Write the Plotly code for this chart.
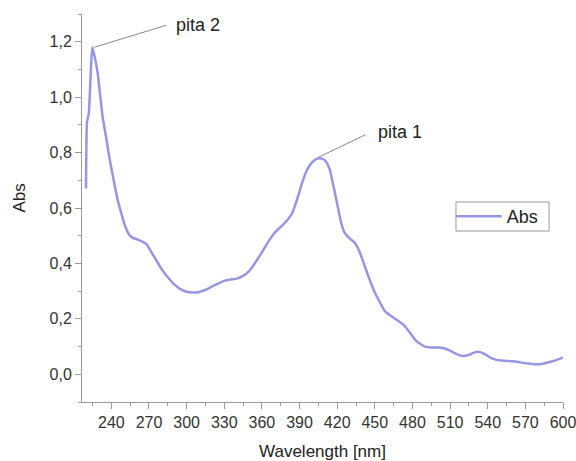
import plotly.graph_objects as go

wavelength = [219.8, 220.6, 222.0, 223.5, 224.8, 226.5, 229.0, 231.0, 233.0, 236.0,
              238.5, 241.0, 245.0, 248.0, 251.0, 254.0, 257.0, 261.0, 265.0, 268.0,
              272.0, 276.0, 280.0, 285.0, 290.0, 295.0, 300.0, 305.0, 310.0, 315.0,
              320.0, 325.0, 330.0, 335.0, 340.0, 345.0, 350.0, 355.0, 360.0, 365.0,
              370.0, 375.0, 380.0, 384.0, 388.0, 392.0, 396.0, 400.0, 404.0, 408.0,
              411.0, 414.0, 417.0, 420.0, 423.0, 426.0, 430.0, 434.0, 438.0, 442.0,
              446.0, 450.0, 454.0, 458.0, 463.0, 468.0, 473.0, 478.0, 482.0, 486.0,
              490.0, 495.0, 500.0, 505.0, 510.0, 515.0, 520.0, 525.0, 530.0, 534.0,
              538.0, 542.0, 547.0, 553.0, 560.0, 566.0, 572.0, 578.0, 584.0, 590.0,
              595.0, 600.0]
absorbance = [0.67, 0.91, 0.94, 1.08, 1.18, 1.15, 1.09, 1.01, 0.93, 0.85,
              0.78, 0.72, 0.63, 0.58, 0.535, 0.505, 0.492, 0.486, 0.478, 0.470,
              0.44, 0.41, 0.38, 0.35, 0.325, 0.307, 0.298, 0.295, 0.297, 0.305,
              0.316, 0.327, 0.337, 0.342, 0.345, 0.355, 0.373, 0.405, 0.44, 0.478,
              0.51, 0.532, 0.555, 0.58, 0.63, 0.69, 0.738, 0.765, 0.778, 0.778,
              0.768, 0.74, 0.68, 0.615, 0.55, 0.51, 0.49, 0.475, 0.44, 0.39,
              0.34, 0.295, 0.26, 0.228, 0.21, 0.195, 0.178, 0.15, 0.125, 0.11,
              0.10, 0.097, 0.097, 0.094, 0.085, 0.074, 0.066, 0.07, 0.08, 0.08,
              0.072, 0.06, 0.052, 0.049, 0.047, 0.043, 0.039, 0.036, 0.038, 0.045,
              0.052, 0.061]

peak_labels = ["pita 2", "pita 1"]
x_ticks = [240, 270, 300, 330, 360, 390, 420, 450, 480, 510, 540, 570, 600]
y_ticks = [0.0, 0.2, 0.4, 0.6, 0.8, 1.0, 1.2]

LINE = "rgb(150,150,225)"
FONT = "Liberation Sans, Arial, sans-serif"

# locate peaks from data
i2 = max(range(len(wavelength)), key=lambda i: absorbance[i] if wavelength[i] < 300 else -1)
i1 = max(range(len(wavelength)), key=lambda i: absorbance[i] if wavelength[i] > 350 else -1)
peaks = [(wavelength[i2], absorbance[i2]), (wavelength[i1] - 2, absorbance[i1])]
# pixel offsets: line start, line end and text offset
offsets = [((2, 0), (74, 22), (82, 22)), ((3, 1), (51, 24), (61, 27))]

fig = go.Figure()
fig.add_trace(go.Scatter(
    x=wavelength, y=absorbance, mode="lines", name="Abs",
    line=dict(color=LINE, width=2.5, shape="spline", smoothing=0.5),
))

for (px, py), lab, (s, e, t) in zip(peaks, peak_labels, offsets):
    fig.add_shape(type="line", xref="x", yref="y",
                  xsizemode="pixel", ysizemode="pixel",
                  xanchor=px, yanchor=py,
                  x0=s[0], y0=s[1], x1=e[0], y1=e[1],
                  line=dict(color="#888888", width=1))
    fig.add_annotation(x=px, y=py, text=lab, showarrow=False,
                       xanchor="left", yanchor="middle",
                       xshift=t[0], yshift=t[1],
                       font=dict(family=FONT, size=18, color="#222222"))

# legend frame
fig.add_shape(type="rect", xref="paper", yref="paper",
              x0=0.7775, x1=0.971, y0=0.4407, y1=0.5155,
              line=dict(color="#999999", width=1), fillcolor="rgba(0,0,0,0)")

# y axis title
fig.add_annotation(xref="paper", yref="paper", x=-0.129, y=0.527,
                   text="Abs", textangle=-90, showarrow=False,
                   xanchor="center", yanchor="middle",
                   font=dict(family=FONT, size=17, color="#222222"))

fig.update_layout(
    width=576, height=461,
    margin=dict(l=82, r=13, t=14, b=59, autoexpand=False),
    plot_bgcolor="white", paper_bgcolor="white",
    separators=", ",
    font=dict(family=FONT, size=16, color="#333333"),
    showlegend=True,
    legend=dict(x=0.7666, y=0.478, xanchor="left", yanchor="middle",
                borderwidth=0, bgcolor="rgba(0,0,0,0)",
                font=dict(family=FONT, size=18, color="#222222"),
                itemwidth=46, tracegroupgap=0),
)
fig.update_xaxes(
    range=[216.6, 600], showgrid=False, zeroline=False, automargin=False,
    showline=True, linecolor="#999999", linewidth=1,
    tickmode="array", tickvals=x_ticks, ticks="outside", ticklen=6,
    tickcolor="#999999", ticklabeloverflow="allow",
    minor=dict(dtick=15, tick0=225, ticks="outside", ticklen=3, tickcolor="#999999"),
    tickfont=dict(size=16, color="#333333"),
    title=dict(text="Wavelength [nm]", font=dict(size=17, color="#222222"), standoff=14),
)
fig.update_yaxes(
    range=[-0.1, 1.3], showgrid=False, zeroline=False, automargin=False,
    showline=True, linecolor="#999999", linewidth=1,
    tickmode="array", tickvals=y_ticks, tickformat=".1f",
    ticks="outside", ticklen=6, tickcolor="#999999", ticklabeloverflow="allow",
    minor=dict(dtick=0.1, tick0=0, ticks="outside", ticklen=3, tickcolor="#999999"),
    tickfont=dict(size=16, color="#333333"),
)

fig.write_html("out.html", config={"displayModeBar": False},
               post_script="document.body.style.margin='0';document.body.style.overflow='hidden';")
